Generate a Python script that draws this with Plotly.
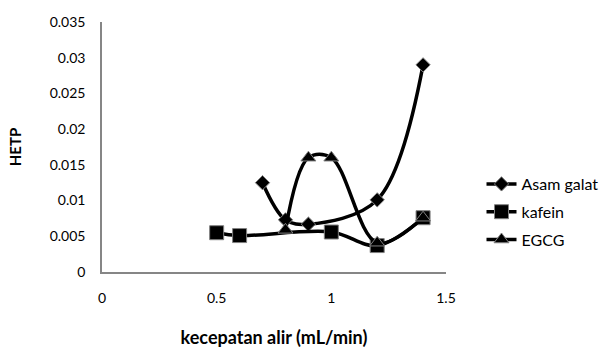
import plotly.graph_objects as go

asam_x = [0.7, 0.8, 0.9, 1.2, 1.4]
asam_y = [0.0125, 0.0073, 0.0067, 0.0101, 0.029]
kafein_x = [0.5, 0.6, 1.0, 1.2, 1.4]
kafein_y = [0.0055, 0.0051, 0.0056, 0.0037, 0.0076]
egcg_x = [0.8, 0.9, 1.0, 1.2, 1.4]
egcg_y = [0.0059, 0.016, 0.016, 0.0041, 0.0076]

FONT = "Lato, Carlito, Calibri, sans-serif"

fig = go.Figure()
series = [
    ("Asam galat", asam_x, asam_y, "diamond", 11),
    ("kafein", kafein_x, kafein_y, "square", 14),
    ("EGCG", egcg_x, egcg_y, "triangle-up", 13),
]
for name, xs, ys, sym, sz in series:
    fig.add_trace(go.Scatter(
        x=xs, y=ys, name=name, mode="lines+markers", legendgroup=name,
        line=dict(color="black", width=3.5, shape="spline", smoothing=1),
        marker=dict(symbol=sym, size=sz, color="black",
                    line=dict(color="#808080", width=1)),
    ))

fig.update_layout(
    width=614, height=348,
    margin=dict(l=102, r=167, t=22, b=76),
    paper_bgcolor="white", plot_bgcolor="white",
    font=dict(family=FONT, size=14, color="black"),
    showlegend=True,
    legend=dict(x=1.10, y=0.24, xanchor="left", yanchor="middle",
                font=dict(family=FONT, size=16), tracegroupgap=4,
                itemwidth=30, bgcolor="rgba(0,0,0,0)"),
    xaxis=dict(range=[0, 1.5], tickvals=[0, 0.5, 1, 1.5],
               ticktext=["0", "0.5", "1", "1.5"],
               showgrid=False, zeroline=False, showline=True,
               linecolor="#868686", linewidth=1.5, ticks="",
               ticklabelstandoff=12, automargin=False,
               tickfont=dict(family=FONT, size=14),
               title=dict(text="<b>kecepatan alir (mL/min)</b>",
                          font=dict(family=FONT, size=18), standoff=30)),
    yaxis=dict(range=[0, 0.035], tickvals=[0, 0.005, 0.01, 0.015, 0.02, 0.025, 0.03, 0.035],
               ticktext=["0", "0.005", "0.01", "0.015", "0.02", "0.025", "0.03", "0.035"],
               showgrid=False, zeroline=False, showline=True,
               linecolor="#868686", linewidth=1.5, ticks="",
               ticklabelstandoff=12, automargin=False,
               tickfont=dict(family=FONT, size=14),
               title=dict(text="<b>HETP</b>", font=dict(family=FONT, size=15), standoff=24)),
)

fig.write_html("out.html")
